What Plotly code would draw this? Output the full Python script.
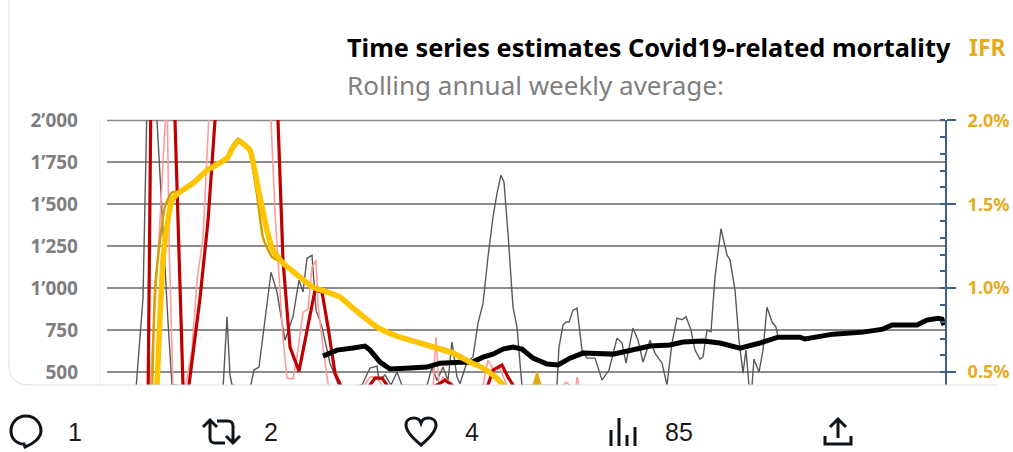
import re
import plotly.graph_objects as go

W, H = 1013, 452
L, R, T, B = 107, 945, 120, 385

# Series values: x in day numbers, y in deaths (left axis) or IFR % (right axis)
gray_x = [136,143,147,152,157,163,168,172,223,227,230,232,250,254,259,271,277,285,293,299,303,307,312,316,322,330,335,340,
          362,370,377,379,385,391,397,402,427,432,437,443,448,452,457,460,467,473,478,483,488,493,497,501,504,508,513,517,520,522,
          557,559,563,566,569,573,577,582,587,595,602,609,617,622,626,633,638,643,650,655,662,667,672,677,682,686,691,695,700,703,707,711,715,721,727,730,735,739,743,746,749,752,754,759,763,767,772,776,778]
gray_y = [400,940,2100,2300,2000,1300,800,423,400,829,482,423,400,512,530,1095,977,690,830,1048,977,1178,1196,869,768,553,470,400,
          423,524,536,452,482,423,500,420,420,530,450,530,450,679,470,430,560,590,792,908,1187,1424,1565,1673,1633,1327,887,768,553,420,
          420,649,780,798,798,869,881,631,583,583,452,512,702,673,553,762,690,559,690,613,553,423,673,821,812,830,750,631,577,590,750,740,1066,1355,1196,1170,988,690,494,631,420,420,577,500,631,887,798,768,708]

pink_x = [149,160,167,169,173,185,192,197,203,208,210,212,270,271,275,280,283,287,293,297,303,308,312,316,318,323,328,331,
          361,363,370,377,383,386,432,433,436,439,443,448,453,456,482,483,488,493,500,507,510,561,563,566,570,574,577,579,581]
pink_y = [300,1400,2200,1300,400,400,631,1048,1300,1800,2000,2400,2400,2000,1450,950,700,464,458,592,857,875,1125,1167,900,650,400,300,
          300,410,470,470,410,300,300,420,708,420,470,450,420,300,300,420,571,520,520,420,300,300,420,440,420,300,470,420,300]

red_x = [148,151,160,173,175,183,186,189,200,208,215,218,275,278,283,290,299,308,315,322,328,335,340,350,
         370,375,382,387,395,437,445,452,460,488,493,502,508,513,520]
red_y = [300,2200,2400,2400,2000,423,300,423,940,1400,2000,2400,2400,2000,1167,649,506,768,988,977,768,494,423,300,
         423,464,464,423,300,423,452,423,300,423,512,542,470,423,300]

black_x = [323,337,353,365,370,380,390,400,410,427,440,460,472,483,493,503,513,522,533,547,558,570,583,613,627,640,650,670,683,703,720,740,760,778,800,805,823,833,863,883,892,917,927,938,942,944]
black_y = [595,631,643,655,631,559,518,518,524,530,553,559,559,589,607,637,649,637,583,548,542,583,613,607,625,649,655,661,679,685,673,643,673,708,708,697,714,726,738,756,780,780,810,821,815,780]

gold_x = [152,155,160,165,172,178,193,207,227,230,238,248,257,263,272,283,300,313,327,340,353,377,397,420,453,470,483]
gold_y = [0.35,0.988,1.286,1.488,1.571,1.575,1.635,1.712,1.775,1.82,1.89,1.84,1.56,1.30,1.186,1.149,1.072,1.012,0.984,0.954,0.888,0.775,0.720,0.680,0.620,0.566,0.53]

spike_x = [532,537,542]
spike_y = [0.40,0.50,0.40]

ifr_x = [155,157,160,163,167,172,178,193,207,227,233,239,250,258,267,273,283,300,313,327,340,353,377,397,420,453,470,483,493,503,507]
ifr_y = [0.30,0.423,0.829,1.167,1.37,1.524,1.565,1.625,1.702,1.774,1.84,1.875,1.821,1.60,1.345,1.226,1.149,1.066,1.006,0.977,0.947,0.881,0.768,0.714,0.673,0.613,0.559,0.524,0.482,0.423,0.38]

left_ticks = [500,750,1000,1250,1500,1750,2000]
left_labels = ["500","750","1’000","1’250","1’500","1’750","2’000"]
right_ticks = [0.5,1.0,1.5,2.0]
right_labels = ["0.5%","1.0%","1.5%","2.0%"]
title_text = "Time series estimates Covid19-related mortality"
subtitle_text = "Rolling annual weekly average:"
ifr_text = "IFR"
counts = ["1","2","4","85"]

def px(x): return (x - L) / (R - L)
def py(y): return (B - y) / (B - T)

def pth(s):
    toks = re.findall(r"[A-Za-z]|-?\d+\.?\d*", s)
    out, axis = [], 0
    for t in toks:
        if t.isalpha():
            out.append(t); axis = 0
        else:
            v = float(t)
            out.append(f"{px(v):.5f}" if axis == 0 else f"{py(v):.5f}")
            axis ^= 1
    return " ".join(out)

fig = go.Figure()
fig.add_trace(go.Scatter(x=gray_x, y=gray_y, mode="lines", line=dict(color="#595959", width=1.4)))
fig.add_trace(go.Scatter(x=pink_x, y=pink_y, mode="lines", line=dict(color="#ff9c9c", width=1.6)))
fig.add_trace(go.Scatter(x=red_x, y=red_y, mode="lines", line=dict(color="#c00000", width=3.2)))
fig.add_trace(go.Scatter(x=black_x, y=black_y, mode="lines", line=dict(color="#000000", width=5)))
fig.add_trace(go.Scatter(x=gold_x, y=gold_y, yaxis="y2", mode="lines", line=dict(color="#d2a000", width=2.5, shape="spline", smoothing=0.5)))
fig.add_trace(go.Scatter(x=spike_x, y=spike_y, yaxis="y2", mode="lines", fill="toself", fillcolor="#e0aa10", line=dict(color="#e0aa10", width=1.5)))
fig.add_trace(go.Scatter(x=ifr_x, y=ifr_y, yaxis="y2", mode="lines", line=dict(color="#ffc400", width=5.5, shape="spline", smoothing=0.5)))

tick_font = dict(family="Noto Sans", size=19, color="#7f7f7f", weight="bold")
shapes = [
    dict(type="line", xref="paper", yref="paper", x0=px(100), x1=px(100), y0=py(120), y1=py(385), line=dict(color="#e8edf2", width=1)),
    dict(type="line", xref="paper", yref="paper", x0=0, x1=1, y0=py(120.5), y1=py(120.5), layer="below", line=dict(color="#8c8c8c", width=1.5)),
    dict(type="path", xref="paper", yref="paper", path=pth("M 9 0 L 9 365 C 9 378 16 385 30 385 L 997 385"), line=dict(color="#d8e1e8", width=1)),
]
icon = dict(type="path", xref="paper", yref="paper", line=dict(color="#0f1419", width=3))
icons = [
    "M 26 416 C 17 416 11 423 11 431 C 11 439 17 444 24 444 L 25 447 C 33 444 41 438 41 431 C 41 423 35 416 26 416 Z",
    "M 203 427 L 210 420 L 217 427 M 210 420 L 210 438 C 210 441 212 443 215 443 L 225 443 M 217 421 L 228 421 C 231 421 233 423 233 426 L 233 443 M 226 436 L 233 443 L 240 436",
    "M 421 445 C 410 436 406 430 406 425 C 406 420 410 418 414 418 C 417 418 420 420 421 423 C 422 420 425 418 428 418 C 432 418 436 420 436 425 C 436 430 432 436 421 445 Z",
    "M 611 430 L 611 446 M 619 418 L 619 446 M 627 435 L 627 446 M 635 427 L 635 446",
    "M 838 420 L 838 438 M 830 427 L 838 419 L 846 427 M 825 436 L 825 444 L 851 444 L 851 436",
]
shapes += [dict(icon, path=pth(p)) for p in icons]

def note(text, x, y, font):
    return dict(text=text, xref="paper", yref="paper", x=px(x), y=py(y), xanchor="left", yanchor="middle", showarrow=False, font=font, borderpad=0)

annots = [
    note(title_text, 346, 47, dict(family="Noto Sans", size=25.3, color="#000000", weight="bold")),
    note(ifr_text, 968, 47, dict(family="Noto Sans", size=23, color="#e6ac1e", weight="bold")),
    note(subtitle_text, 346, 85, dict(family="Noto Sans", size=26, color="#7f7f7f")),
]
for t, x in zip(counts, [67, 263, 464, 664]):
    annots.append(note(t, x, 432, dict(family="Liberation Sans", size=25, color="#1a1a1a")))

fig.update_layout(
    width=W, height=H, showlegend=False, paper_bgcolor="white", plot_bgcolor="white",
    margin=dict(l=L, r=W - R, t=T, b=H - B, autoexpand=False),
    xaxis=dict(range=[L, R], visible=False),
    yaxis=dict(range=[423, 2002], tickvals=left_ticks, ticktext=left_labels, tickfont=tick_font,
               showgrid=True, gridcolor="#8c8c8c", gridwidth=1.5, zeroline=False, showline=False, ticks="", ticklabelstandoff=28),
    yaxis2=dict(range=[0.423, 2.002], overlaying="y", side="right", tickvals=right_ticks, ticktext=right_labels,
                tickfont=dict(family="Noto Sans", size=18, color="#e6ac1e", weight="bold"),
                showgrid=False, zeroline=False, showline=True, linecolor="#3f5f85", linewidth=2,
                ticks="outside", ticklen=9, tickwidth=1.5, tickcolor="#3f5f85", ticklabelstandoff=8,
                minor=dict(dtick=0.1, ticks="inside", ticklen=5, tickwidth=1.5, tickcolor="#3f5f85")),
    shapes=shapes, annotations=annots,
)
fig.write_html("out.html", config=dict(displayModeBar=False),
               post_script="document.body.style.margin='0';document.body.style.overflow='hidden';")
